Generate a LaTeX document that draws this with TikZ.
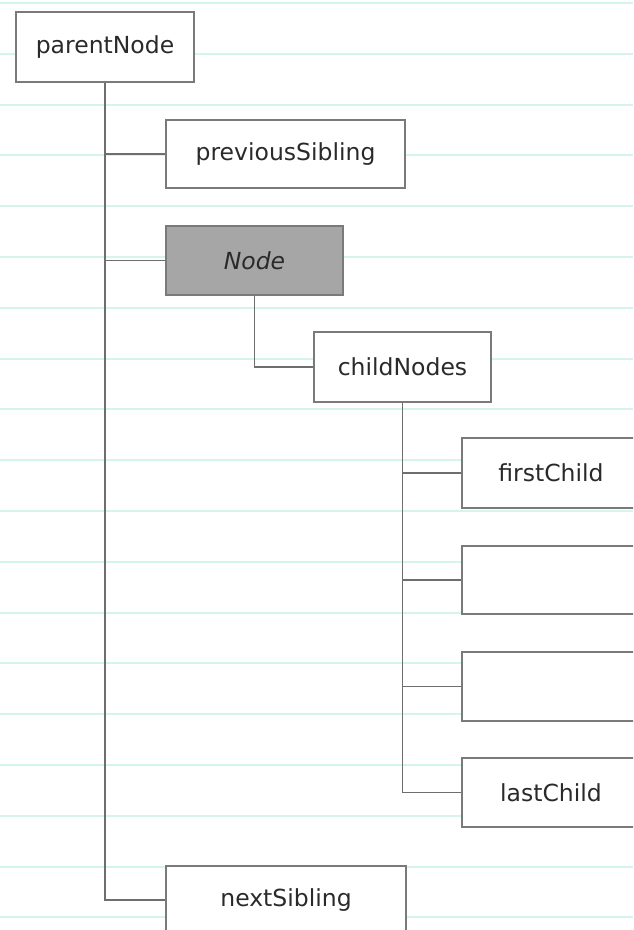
\documentclass[tikz,border=0pt]{standalone}
\usepackage{fontspec}
\setmainfont{DejaVu Sans}
\definecolor{bgl}{HTML}{D6F4EE}
\definecolor{edge}{HTML}{7A7A7A}
\definecolor{conncol}{HTML}{6E6E6E}
\definecolor{nodefill}{HTML}{A6A6A6}
\definecolor{txt}{HTML}{2A2A2A}
\tikzset{
  bgline/.style={draw=bgl, line width=2pt},
  box/.style={draw=edge, fill=white, line width=1.5pt, rectangle, inner sep=0pt,
    text=txt, font=\fontsize{23.5}{27}\selectfont},
  conn/.style={draw=conncol, line width=1.8pt}
}
\begin{document}
\begin{tikzpicture}[x=1pt,y=-1pt]
\useasboundingbox (0,0) rectangle (633,930);
\clip (0,0) rectangle (633,930);
\fill[white] (0,0) rectangle (633,930);
\foreach \k in {0,...,18}{
  \draw[bgline] (0,{3+50.8*\k}) -- (633,{3+50.8*\k});
}
% nodes
\node[box, minimum width=178pt, minimum height=70pt] (parent) at (105,47) {parentNode};
\node[box, minimum width=239pt, minimum height=68pt] (prev) at (285.5,154) {previousSibling};
\node[box, fill=nodefill, minimum width=177pt, minimum height=69pt] (cur) at (254.5,260.5) {\itshape Node};
\node[box, minimum width=177pt, minimum height=70pt] (child) at (402.5,367) {childNodes};
\node[box, minimum width=178pt, minimum height=70pt] (first) at (551,473) {firstChild};
\node[box, minimum width=178pt, minimum height=68pt] (mid1) at (551,580) {};
\node[box, minimum width=178pt, minimum height=69pt] (mid2) at (551,686.5) {};
\node[box, minimum width=178pt, minimum height=69pt] (last) at (551,792.5) {lastChild};
\node[box, minimum width=240pt, minimum height=68pt] (next) at (286,900) {nextSibling};
% connectors
\draw[conn] (parent.south) |- (next.west);
\draw[conn] (parent.south |- prev.west) -- (prev.west);
\draw[conn] (parent.south |- cur.west) -- (cur.west);
\draw[conn] (cur.south) |- (child.west);
\draw[conn] (child.south) |- (last.west);
\draw[conn] (child.south |- first.west) -- (first.west);
\draw[conn] (child.south |- mid1.west) -- (mid1.west);
\draw[conn] (child.south |- mid2.west) -- (mid2.west);
\end{tikzpicture}
\end{document}
